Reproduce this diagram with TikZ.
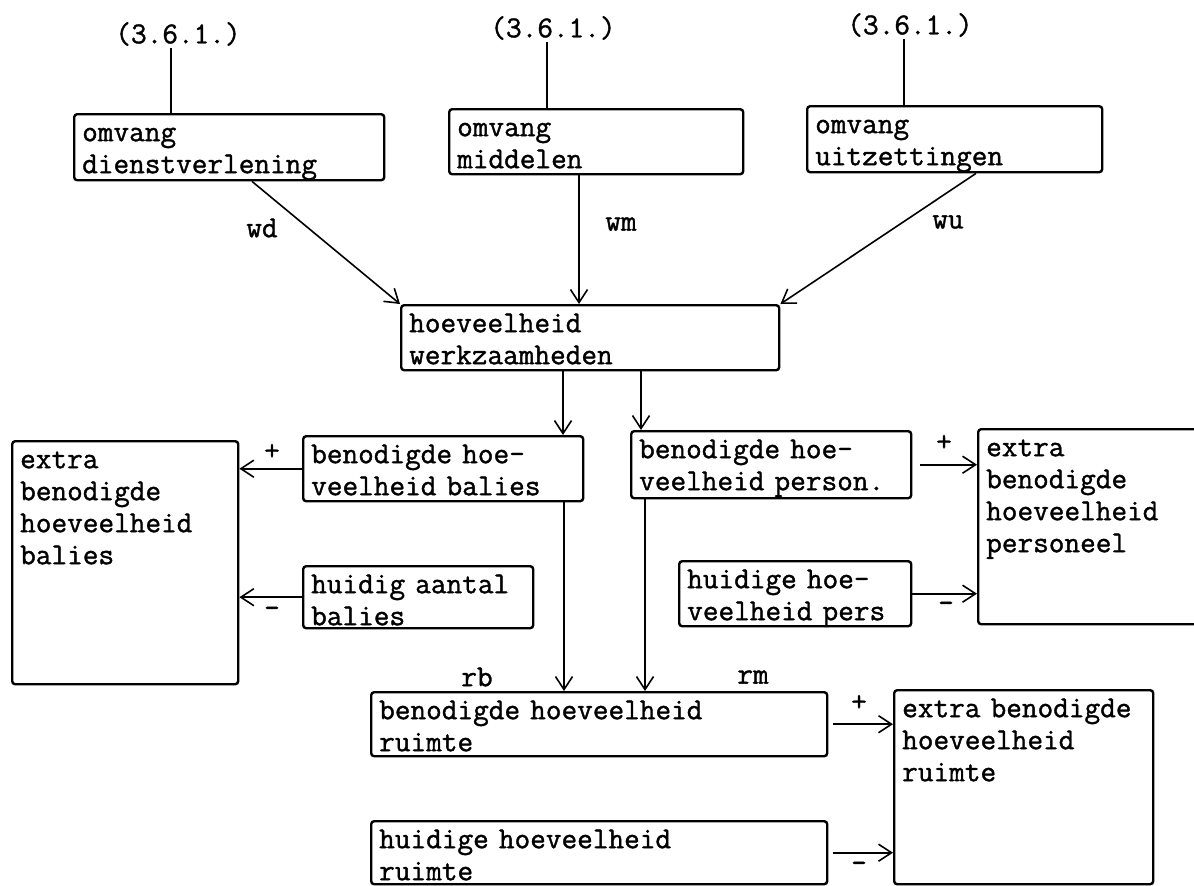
\documentclass[tikz,border=0pt]{standalone}
\usepackage{fontspec}
\usetikzlibrary{arrows.meta}
\newfontfamily\schrijfmachine[FakeBold=1.2]{Latin Modern Mono}
\newcommand\typeletter{\fontsize{15.2}{16}\selectfont\schrijfmachine}

\begin{document}
\begin{tikzpicture}[x=0.5pt,y=-0.5pt,>={Straight Barb[length=6.5pt,width=8.5pt]},
  kader/.style={draw,line width=1.2pt,rounded corners=1.5pt,anchor=north west,align=left,
    inner xsep=4pt,inner ysep=3.5pt,text height=10pt,font=\typeletter},
  tekst/.style={inner sep=1pt,font=\typeletter},
  lijn/.style={line width=0.8pt},
  verbinding/.style={->,line width=0.8pt}]
\clip (0,0) rectangle (1194,885);
% bronnen
\node[tekst] (ref1) at (178,34) {(3.6.1.)};
\node[tekst] (ref2) at (553,28) {(3.6.1.)};
\node[tekst] (ref3) at (910,25) {(3.6.1.)};
\node[kader,text width=147pt,text depth=16pt] (dv) at (73,113) {omvang\\dienstverlening};
\node[kader,text width=139pt,text depth=15.5pt] (om) at (448,108) {omvang\\middelen};
\node[kader,text width=139.5pt,text depth=16pt] (ou) at (806,105) {omvang\\uitzettingen};
\draw[lijn] ([xshift=-3.5pt]ref1.south) -- ([xshift=-3.5pt]ref1.south |- dv.north);
\draw[lijn] ([xshift=-3pt]ref2.south) -- ([xshift=-3pt]ref2.south |- om.north);
\draw[lijn] ([xshift=-3pt]ref3.south) -- ([xshift=-3pt]ref3.south |- ou.north);
% werkzaamheden
\node[kader,text width=181pt,text depth=15.5pt] (hw) at (400,304) {hoeveelheid\\werkzaamheden};
\draw[verbinding] ([xshift=89.5pt]dv.south west) -- (hw.north west);
\draw[verbinding] ([xshift=65.5pt]om.south west) -- ([xshift=65.5pt]om.south west |- hw.north);
\draw[verbinding] ([xshift=85pt]ou.south west) -- (hw.north east);
\node[tekst] (wd) at (262,228) {wd};
\node[tekst] (wm) at (621,224) {wm};
\node[tekst] (wu) at (948,222) {wu};
% balies en personeel
\node[kader,text width=105pt,text depth=104.5pt] (eb) at (11,440) {extra\\benodigde\\hoeveelheid\\balies};
\node[kader,text width=132pt,text depth=15.5pt] (bb) at (302,435) {benodigde hoe-\\veelheid balies};
\node[kader,text width=107pt,text depth=14pt] (hb) at (302,565) {huidig aantal\\balies};
\node[kader,text width=132pt,text depth=16.5pt] (bp) at (630,430) {benodigde hoe-\\veelheid person.};
\node[kader,text width=111pt,text depth=80.5pt] (ep) at (977,428) {extra\\benodigde\\hoeveelheid\\personeel};
\node[kader,text width=108pt,text depth=15.5pt] (hp) at (678,560) {huidige hoe-\\veelheid pers};
\draw[verbinding] ([xshift=81.5pt]hw.south west) -- ([xshift=81.5pt]hw.south west |- bb.north);
\draw[verbinding] ([xshift=120.5pt]hw.south west) -- ([xshift=120.5pt]hw.south west |- bp.north);
\draw[verbinding] (bb.west) -- (bb.west -| eb.east);
\draw[verbinding] (hb.west) -- (hb.west -| eb.east);
\draw[verbinding] ([xshift=4pt]bp.east) -- (bp.east -| ep.west);
\draw[verbinding] (hp.east) -- (hp.east -| ep.west);
\node[tekst] (plus1) at (272,452) {+};
\node[tekst] (min1) at (272,612) {-};
\node[tekst] (plus2) at (944,443) {+};
\node[tekst] (min2) at (946,607) {-};
% ruimte
\node[kader,text width=220pt,text depth=15pt] (br) at (370,691) {benodigde hoeveelheid\\ruimte};
\node[kader,text width=121.5pt,text depth=80pt] (er) at (893,689) {extra benodigde\\hoeveelheid\\ruimte};
\node[kader,text width=220pt,text depth=14.5pt] (hr) at (370,820) {huidige hoeveelheid\\ruimte};
\draw[verbinding] ([xshift=131pt]bb.south west) -- ([xshift=131pt]bb.south west |- br.north);
\draw[verbinding] ([xshift=7.5pt]bp.south west) -- ([xshift=7.5pt]bp.south west |- br.north);
\draw[verbinding] ([xshift=2.5pt]br.east) -- (br.east -| er.west);
\draw[verbinding] ([xshift=2.5pt]hr.east) -- (hr.east -| er.west);
\node[tekst] (rb) at (477,677) {rb};
\node[tekst] (rm) at (753,677) {rm};
\node[tekst] (plus3) at (859,703) {+};
\node[tekst] (min3) at (859,867) {-};
\end{tikzpicture}
\end{document}
